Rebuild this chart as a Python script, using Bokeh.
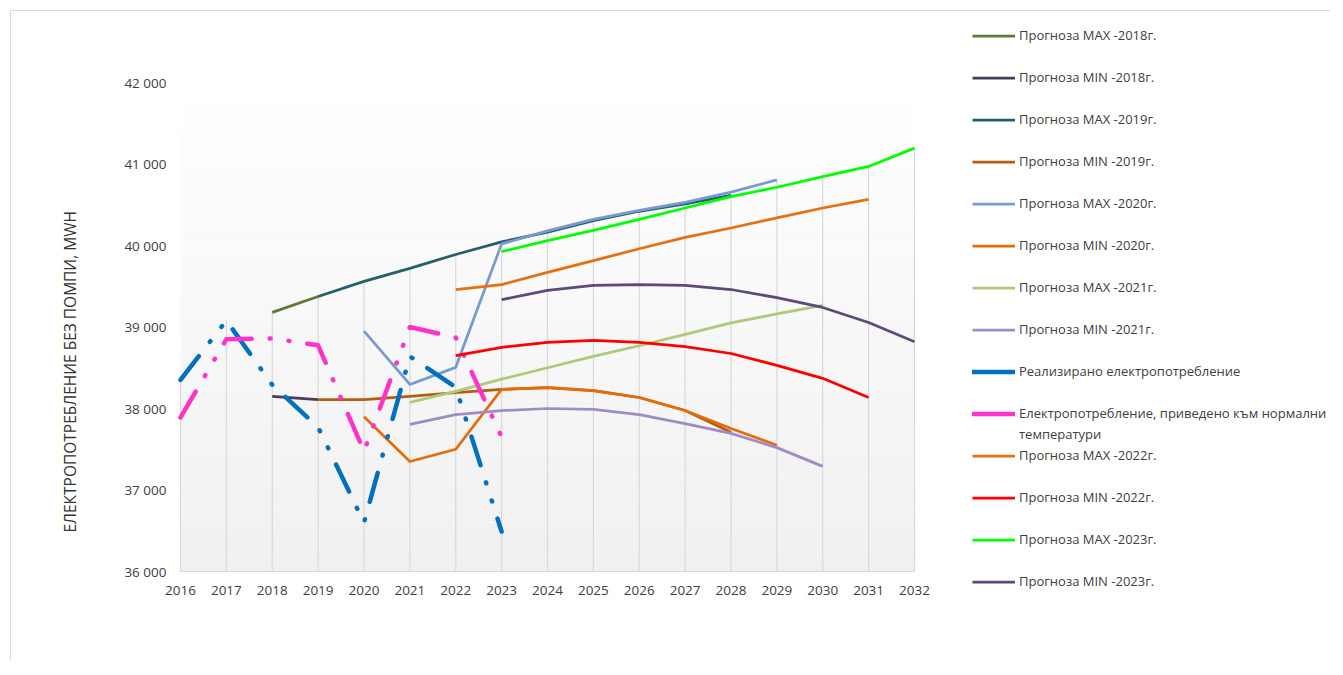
import numpy as np
from bokeh.plotting import figure
from bokeh.models import Range1d, FixedTicker, Legend, LegendItem, Title
from bokeh.embed import file_html
from bokeh.resources import INLINE

# ---------------- data ----------------
x_ticks = list(range(2016, 2033))
x_tick_labels = [str(v) for v in x_ticks]
y_ticks = [36000, 37000, 38000, 39000, 40000, 41000, 42000]
y_tick_labels = ["36 000", "37 000", "38 000", "39 000", "40 000", "41 000", "42 000"]

max_2018_years = [2018, 2019]
max_2018 = [39180, 39375]
min_2018_years = [2018, 2019]
min_2018 = [38150, 38110]
max_2019_years = list(range(2019, 2029))
max_2019 = [39375, 39560, 39720, 39890, 40045, 40165, 40305, 40420, 40510, 40615]
min_2019_years = list(range(2019, 2029))
min_2019 = [38110, 38110, 38150, 38195, 38235, 38255, 38220, 38135, 37975, 37710]
max_2020_years = list(range(2020, 2030))
max_2020 = [38950, 38295, 38505, 40020, 40180, 40320, 40430, 40530, 40655, 40805]
min_2020_years = list(range(2020, 2030))
min_2020 = [37900, 37350, 37500, 38235, 38255, 38220, 38135, 37975, 37755, 37550]
max_2021_years = list(range(2021, 2031))
max_2021 = [38075, 38210, 38360, 38500, 38640, 38770, 38910, 39050, 39160, 39265]
min_2021_years = list(range(2021, 2031))
min_2021 = [37805, 37925, 37975, 38000, 37990, 37925, 37815, 37695, 37520, 37290]
real_years = list(range(2016, 2024))
real = [38350, 39080, 38290, 37770, 36600, 38640, 38260, 36490]
norm_years = list(range(2016, 2024))
norm = [37890, 38850, 38860, 38775, 37475, 39000, 38870, 37650]
max_2022_years = list(range(2022, 2032))
max_2022 = [39460, 39520, 39670, 39815, 39960, 40100, 40215, 40340, 40460, 40565]
min_2022_years = list(range(2022, 2032))
min_2022 = [38650, 38750, 38810, 38835, 38810, 38760, 38675, 38530, 38370, 38135]
max_2023_years = list(range(2023, 2033))
max_2023 = [39925, 40060, 40185, 40320, 40460, 40600, 40715, 40845, 40970, 41195]
min_2023_years = list(range(2023, 2033))
min_2023 = [39335, 39450, 39510, 39520, 39510, 39460, 39360, 39240, 39055, 38820]

series = [
    ("Прогноза MAX -2018г.", max_2018_years, max_2018, "#5e7a35", "solid"),
    ("Прогноза MIN -2018г.", min_2018_years, min_2018, "#4b3b5e", "solid"),
    ("Прогноза MAX -2019г.", max_2019_years, max_2019, "#23606c", "solid"),
    ("Прогноза MIN -2019г.", min_2019_years, min_2019, "#b65d12", "solid"),
    ("Прогноза MAX -2020г.", max_2020_years, max_2020, "#779bd0", "solid"),
    ("Прогноза MIN -2020г.", min_2020_years, min_2020, "#e46c0a", "solid"),
    ("Прогноза MAX -2021г.", max_2021_years, max_2021, "#afc97b", "solid"),
    ("Прогноза MIN -2021г.", min_2021_years, min_2021, "#a08bc4", "solid"),
    ("Реализирано електропотребление", real_years, real, "#0070c0", "dash"),
    ("Електропотребление, приведено към нормални", norm_years, norm, "#ff33cc", "dash"),
    ("Прогноза MAX -2022г.", max_2022_years, max_2022, "#e5700f", "solid"),
    ("Прогноза MIN -2022г.", min_2022_years, min_2022, "#ff0000", "solid"),
    ("Прогноза MAX -2023г.", max_2023_years, max_2023, "#00ff00", "solid"),
    ("Прогноза MIN -2023г.", min_2023_years, min_2023, "#5f497a", "solid"),
]
wrapped_label_index = 9
label_second_line = "температури"
y_title = "ЕЛЕКТРОПОТРЕБЛЕНИЕ БЕЗ ПОМПИ, MWH"

# ---------------- layout (pixels inside the figure canvas) ----------------
W, H = 1320, 650
FR_L, FR_R, FR_T, FR_B = 100, 1320, 0, 600      # frame (includes legend area)
PA_L, PA_R, PA_T, PA_B = 169, 903, 71, 560      # visible plot area (2016..2032 x 36000..42000)

Y0, Y1 = y_ticks[0], y_ticks[-1]
X0, X1 = x_ticks[0], x_ticks[-1]
xpp = (X1 - X0) / (PA_R - PA_L)
ypp = (Y1 - Y0) / (PA_B - PA_T)
xr = Range1d(X0 - (PA_L - FR_L) * xpp, X1 + (FR_R - PA_R) * xpp)
yr = Range1d(Y0 - (FR_B - PA_B) * ypp, Y1 + (PA_T - FR_T) * ypp)

p = figure(width=W, height=H, x_range=xr, y_range=yr,
           output_backend="svg", toolbar_location=None,
           min_border_left=FR_L, min_border_right=W - FR_R, min_border_top=FR_T,
           min_border_bottom=H - FR_B)
p.styles = {"border-left": "1px solid #d9d9d9", "border-top": "1px solid #d9d9d9",
            "margin-left": "10px", "margin-top": "10px"}
p.xgrid.visible = False
p.ygrid.visible = False
p.outline_line_color = None
p.background_fill_color = "white"
p.border_fill_color = "white"

# gradient plot-area background
nb = 80
edges = np.linspace(Y0, Y1, nb + 1)
shades = np.linspace(240, 255, nb).round().astype(int)
cols = ["#%02x%02x%02x" % (s, s, s) for s in shades]
p.quad(left=X0, right=X1, bottom=edges[:-1], top=edges[1:], fill_color=cols, line_color=None)

# drop lines (from highest series value in each year down to the axis)
env = {}
for _, xs, ys, _, _ in series:
    for xv, yv in zip(xs, ys):
        env[xv] = max(env.get(xv, Y0), yv)
dl_x = sorted(env)
p.segment(x0=dl_x, y0=Y0, x1=dl_x, y1=[env[k] for k in dl_x], line_color="#d9d9d9", line_width=1.2)

nan = float("nan")
blank = p.line(x=[X0], y=[nan], line_alpha=0)
items = []
for i, (name, xs, ys, col, style) in enumerate(series):
    if style == "solid":
        r = p.line(xs, ys, line_color=col, line_width=2.75, line_join="round")
        items.append(LegendItem(label=name, renderers=[r]))
    else:
        p.line(xs, ys, line_color=col, line_width=4.5, line_cap="round", line_join="round",
               line_dash="30 18 1 18 1 18")
        proxy = p.line(x=[X0], y=[nan], line_color=col, line_width=4.5, line_cap="round")
        items.append(LegendItem(label=name, renderers=[proxy]))
    if i < len(series) - 1:
        txt = label_second_line if i == wrapped_label_index else " "
        items.append(LegendItem(label=txt, renderers=[blank]))

# axes (pinned to the plot-area edges)
p.xaxis.ticker = FixedTicker(ticks=x_ticks)
p.xaxis.major_label_overrides = {k: v for k, v in zip(x_ticks, x_tick_labels)}
p.xaxis.fixed_location = Y0
p.xaxis.bounds = (X0, X1)
p.yaxis.ticker = FixedTicker(ticks=y_ticks)
p.yaxis.major_label_overrides = {k: v for k, v in zip(y_ticks, y_tick_labels)}
p.yaxis.fixed_location = X0
p.yaxis.bounds = (Y0, Y1)
for ax in (p.xaxis, p.yaxis):
    ax.major_tick_line_color = None
    ax.minor_tick_line_color = None
    ax.major_tick_out = 0
    ax.major_tick_in = 0
    ax.minor_tick_out = 0
    ax.major_label_text_font = "Open Sans"
    ax.major_label_text_font_size = "13.5px"
    ax.major_label_text_color = "#404040"
p.xaxis.axis_line_color = "#d9d9d9"
p.xaxis.major_label_standoff = 14
p.yaxis.axis_line_color = None
p.yaxis.major_label_standoff = 14

# y title (left side panel)
p.add_layout(Title(text=y_title, align="left", offset=FR_B - 521, vertical_align="middle",
                   standoff=59, text_font="Open Sans", text_font_size="15.5px",
                   text_font_style="normal", text_color="#333333"), "left")

n_rows = len(items)
row_h = 21
leg_top = 13.5
legend = Legend(items=items, location=(961 - FR_L, FR_B - n_rows * row_h - leg_top),
                glyph_width=43, glyph_height=row_h, label_height=row_h, spacing=0,
                padding=0, margin=0, label_standoff=4, ncols=1,
                border_line_color=None, background_fill_alpha=0,
                label_text_font="Open Sans", label_text_font_size="13px",
                label_text_color="#404040")
p.add_layout(legend)

open("out.html", "w").write(file_html(p, INLINE))
